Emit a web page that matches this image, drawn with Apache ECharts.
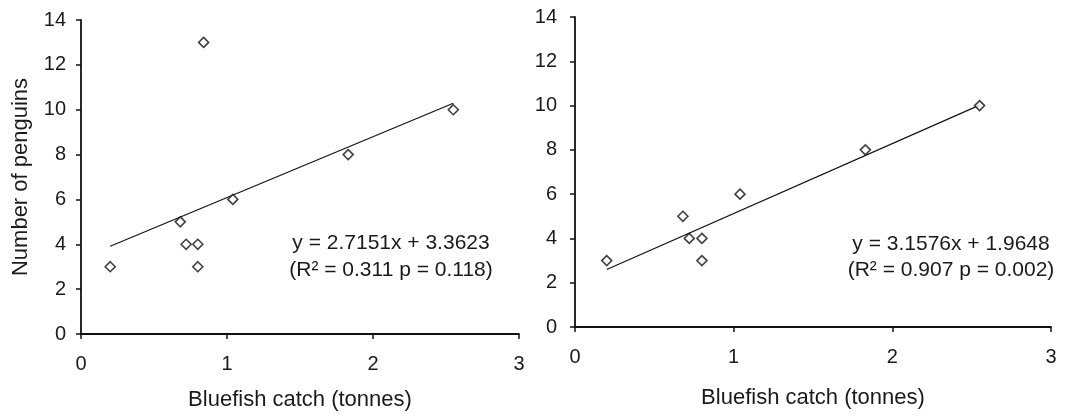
<!DOCTYPE html>
<html>
<head>
<meta charset="utf-8">
<script src="https://cdn.jsdelivr.net/npm/echarts@6/dist/echarts.min.js"></script>
<style>
html,body{margin:0;padding:0;background:#fff;}
#chart{width:1075px;height:417px;}
</style>
</head>
<body>
<div id="chart"></div>
<script>
// ---- data ----
var leftX  = [0.2, 0.68, 0.72, 0.8, 0.8, 0.84, 1.04, 1.83, 2.55];
var leftY  = [3, 5, 4, 4, 3, 13, 6, 8, 10];
var rightX = [0.2, 0.68, 0.72, 0.8, 0.8, 1.04, 1.83, 2.55];
var rightY = [3, 5, 4, 4, 3, 6, 8, 10];
var leftTrendX  = [0.2, 2.55];
var leftTrendY  = [3.91, 10.29];
var rightTrendX = [0.2, 2.55];
var rightTrendY = [2.60, 10.02];
var xTicks = [0, 1, 2, 3];
var yTicks = [0, 2, 4, 6, 8, 10, 12, 14];
var xTitle = 'Bluefish catch (tonnes)';
var yTitle = 'Number of penguins';
var leftEq  = ['y = 2.7151x + 3.3623', '(R\u00b2 = 0.311 p = 0.118)'];
var rightEq = ['y = 3.1576x + 1.9648', '(R\u00b2 = 0.907 p = 0.002)'];

function zip(a, b) { return a.map(function (v, i) { return [v, b[i]]; }); }

var FONT = '"Liberation Sans", Arial, sans-serif';
var TXT = '#1a1a1a';

function xAxisCfg(gi, nameGap) {
  return {
    type: 'value', gridIndex: gi, min: xTicks[0], max: xTicks[xTicks.length - 1], interval: 1,
    splitLine: { show: false },
    axisLine: { show: true, onZero: false, lineStyle: { color: '#111', width: 1.8 } },
    axisTick: { show: true, inside: false, length: 5, lineStyle: { color: '#111', width: 1.5 } },
    axisLabel: { color: TXT, fontSize: 20, fontFamily: FONT, margin: 20 },
    name: xTitle, nameLocation: 'middle', nameGap: nameGap,
    nameTextStyle: { color: TXT, fontSize: 22, fontFamily: FONT }
  };
}
function yAxisCfg(gi, showName, margin) {
  return {
    type: 'value', gridIndex: gi, min: yTicks[0], max: yTicks[yTicks.length - 1], interval: 2,
    splitLine: { show: false },
    axisLine: { show: true, onZero: false, lineStyle: { color: '#111', width: 1.8 } },
    axisTick: { show: true, inside: false, length: 5, lineStyle: { color: '#111', width: 1.5 } },
    axisLabel: { color: TXT, fontSize: 20, fontFamily: FONT, margin: margin },
    name: showName ? yTitle : '', nameLocation: 'middle', nameGap: 49, nameRotate: 90,
    nameTextStyle: { color: TXT, fontSize: 22, fontFamily: FONT }
  };
}
function scatter(idx, xs, ys) {
  return {
    type: 'scatter', xAxisIndex: idx, yAxisIndex: idx, data: zip(xs, ys),
    symbol: 'diamond', symbolSize: 10,
    itemStyle: { color: '#fff', borderColor: '#111', borderWidth: 1.6 },
    z: 3
  };
}
function trend(idx, xs, ys) {
  return {
    type: 'line', xAxisIndex: idx, yAxisIndex: idx, data: zip(xs, ys),
    symbol: 'none', lineStyle: { color: '#111', width: 1.2 }, z: 2, silent: true
  };
}

var EQF = '21px ' + FONT;
var chart = echarts.init(document.getElementById('chart'), null, { renderer: 'canvas' });
chart.setOption({
  animation: false,
  backgroundColor: '#fff',
  grid: [
    { left: 81, top: 20, width: 438, height: 314 },
    { left: 575, top: 17, width: 476, height: 310 }
  ],
  xAxis: [xAxisCfg(0, 55), xAxisCfg(1, 60)],
  yAxis: [yAxisCfg(0, true, 15), yAxisCfg(1, false, 18)],
  series: [
    trend(0, leftTrendX, leftTrendY),
    scatter(0, leftX, leftY),
    trend(1, rightTrendX, rightTrendY),
    scatter(1, rightX, rightY)
  ],
  graphic: [
    { type: 'text', x: 391, y: 243, style: { text: leftEq[0], fill: TXT, font: EQF, textAlign: 'center', textVerticalAlign: 'middle' } },
    { type: 'text', x: 391, y: 270, style: { text: leftEq[1], fill: TXT, font: EQF, textAlign: 'center', textVerticalAlign: 'middle' } },
    { type: 'text', x: 951, y: 244, style: { text: rightEq[0], fill: TXT, font: EQF, textAlign: 'center', textVerticalAlign: 'middle' } },
    { type: 'text', x: 951, y: 270, style: { text: rightEq[1], fill: TXT, font: EQF, textAlign: 'center', textVerticalAlign: 'middle' } }
  ]
});
</script>
</body>
</html>
